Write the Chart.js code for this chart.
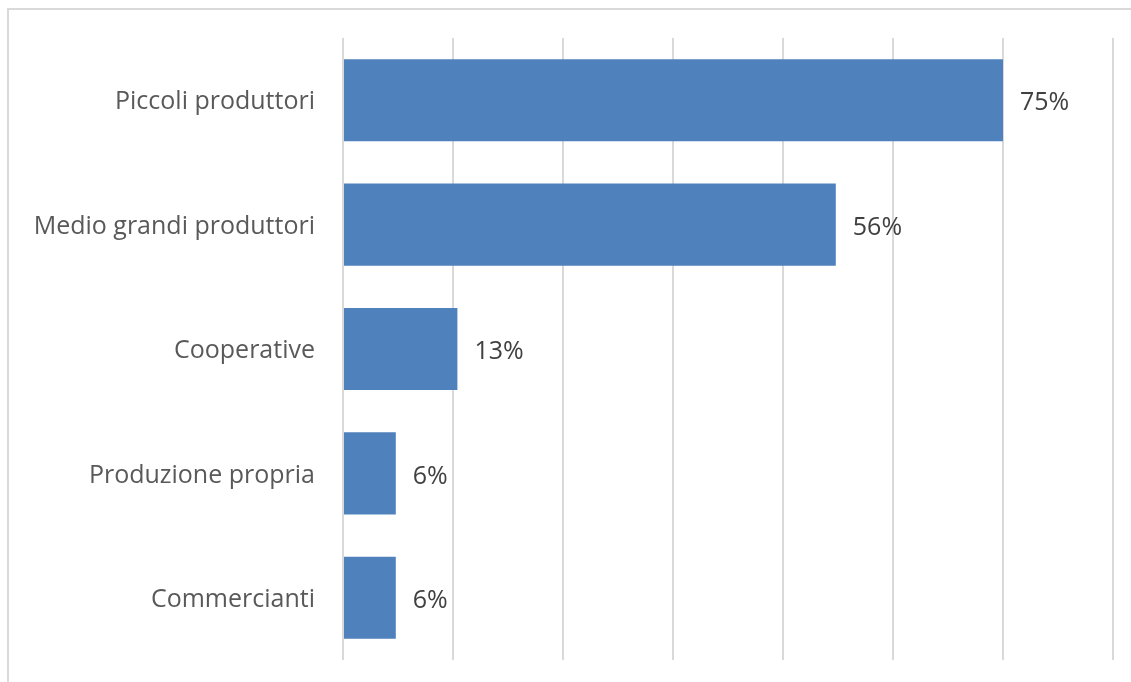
<!DOCTYPE html>
<html>
<head>
<meta charset="utf-8">
<script src="https://cdn.jsdelivr.net/npm/chart.js@4/dist/chart.umd.min.js"></script>
<style>
  html, body { margin: 0; padding: 0; background: #fff; }
  #wrap { position: relative; width: 1131px; height: 682px; overflow: hidden; }
  #frame { position: absolute; left: 7px; top: 8px; width: 1140px; height: 700px;
           border: 2px solid #d9d9d9; box-sizing: border-box; }
  canvas { position: absolute; left: 0; top: 0; }
</style>
</head>
<body>
<div id="wrap">
  <div id="frame"></div>
  <canvas id="c" width="1131" height="682"></canvas>
</div>
<script>
// Fonti di approvvigionamento (quota di rispondenti, %)
const categories = ['Piccoli produttori', 'Medio grandi produttori', 'Cooperative', 'Produzione propria', 'Commercianti'];
const values = [75, 56, 13, 6, 6];
const valueLabels = ['75%', '56%', '13%', '6%', '6%'];

const FONT = "'Open Sans', 'Liberation Sans', sans-serif";

// Draws the percentage text just to the right of each bar
const barValueLabels = {
  id: 'barValueLabels',
  afterDatasetsDraw(chart) {
    const ctx = chart.ctx;
    const meta = chart.getDatasetMeta(0);
    ctx.save();
    ctx.font = '25px ' + FONT;
    ctx.fillStyle = '#404040';
    ctx.textAlign = 'left';
    ctx.textBaseline = 'middle';
    meta.data.forEach((bar, i) => {
      ctx.fillText(valueLabels[i], bar.x + 17, bar.y + 3);
    });
    ctx.restore();
  }
};

new Chart(document.getElementById('c'), {
  type: 'bar',
  data: {
    labels: categories,
    datasets: [{
      data: values,
      backgroundColor: '#4f81bd',
      borderWidth: 0,
      categoryPercentage: 0.66,
      barPercentage: 1.0
    }]
  },
  options: {
    indexAxis: 'y',
    responsive: false,
    animation: false,
    devicePixelRatio: 1,
    layout: { padding: { top: 38, bottom: 22, right: 18, left: 0 }, autoPadding: false },
    plugins: { legend: { display: false }, tooltip: { enabled: false } },
    scales: {
      x: {
        min: 0, max: 87.5,
        ticks: { display: false, stepSize: 12.5 },
        grid: { color: '#d9d9d9', lineWidth: 2, drawTicks: false },
        border: { display: false },
        afterFit(scale) { scale.height = 0; scale.paddingLeft = 0; scale.paddingRight = 0; }
      },
      y: {
        afterFit(scale) { scale.width = 343; scale.paddingTop = 0; scale.paddingBottom = 0; },
        ticks: { color: '#595959', font: { family: FONT, size: 25 }, padding: 28, labelOffset: 2 },
        grid: { display: false, drawTicks: false },
        border: { display: false }
      }
    }
  },
  plugins: [barValueLabels]
});
</script>
</body>
</html>
